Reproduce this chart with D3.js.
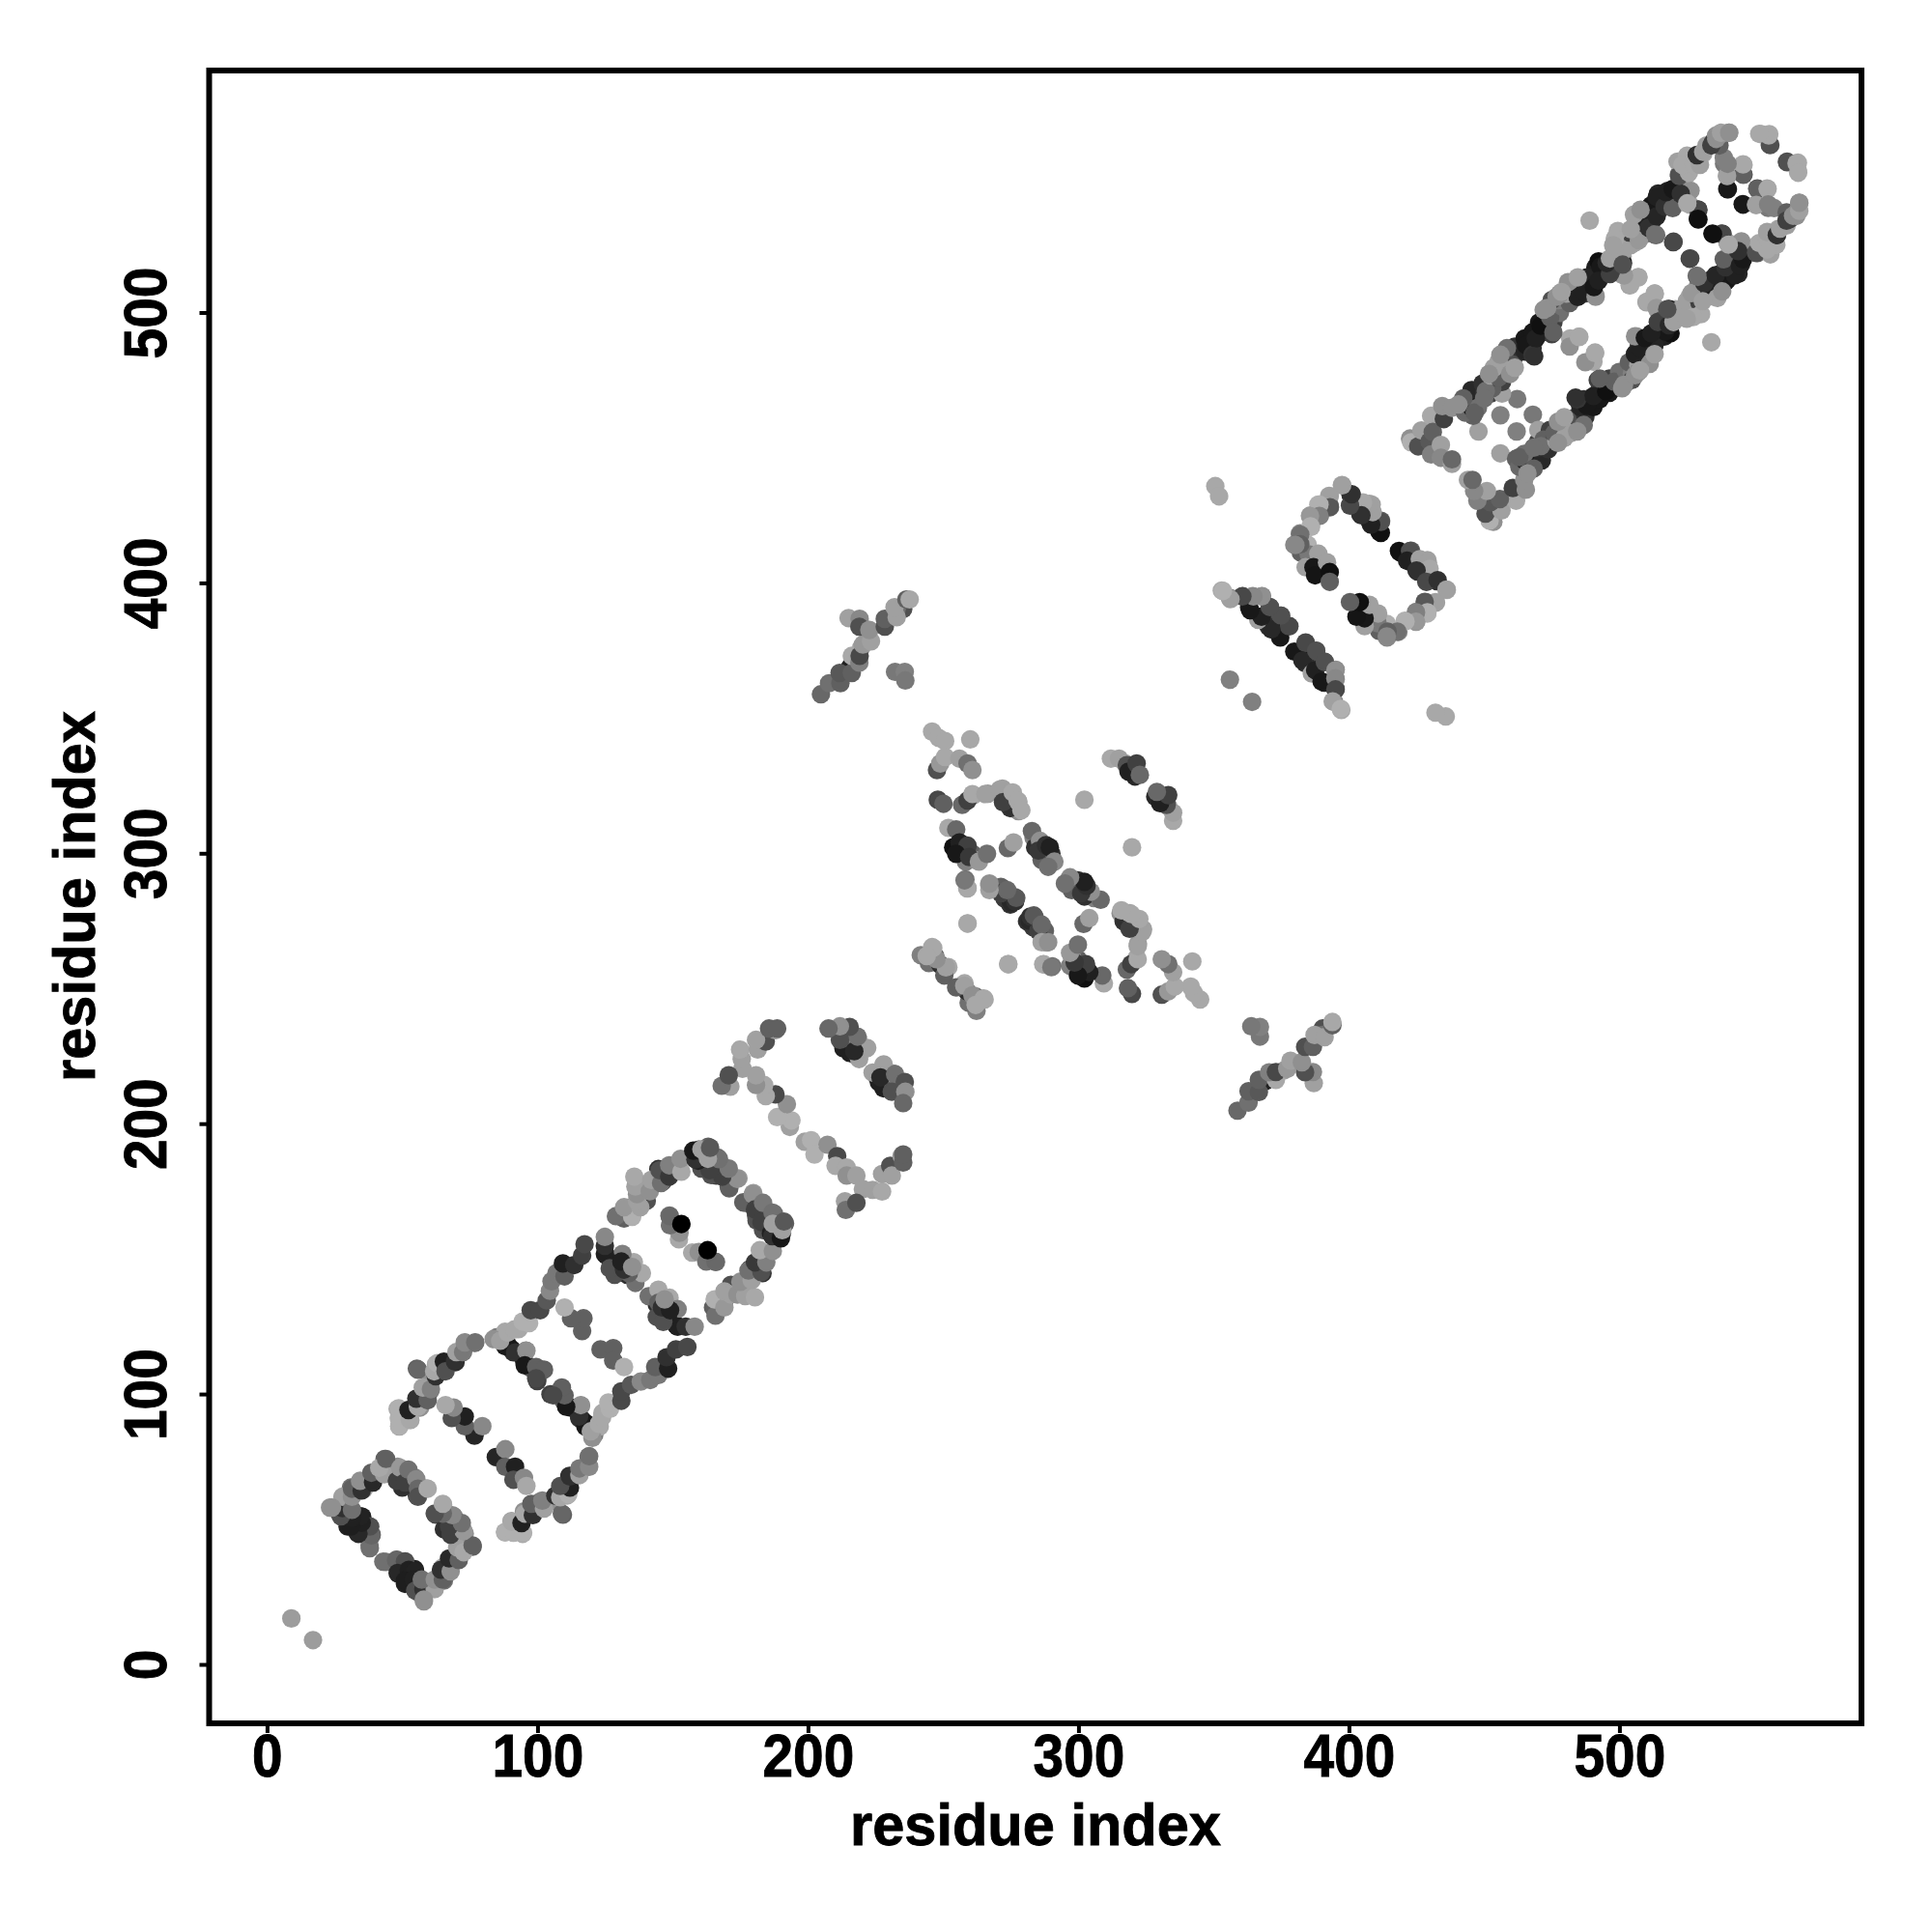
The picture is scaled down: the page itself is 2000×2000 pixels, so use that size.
<!DOCTYPE html>
<html><head><meta charset="utf-8"><style>html,body{margin:0;background:#fff}svg{display:block}</style>
<script src="https://cdn.jsdelivr.net/npm/d3@7"></script></head><body><div id="c"></div>
<script>
const xTicks=[0,100,200,300,400,500], yTicks=[0,100,200,300,400,500];
const xTitle="residue index", yTitle="residue index";
// contacts as [residue a, residue b, grey level]; the map is symmetric so each is drawn at (a,b) and (b,a)
const farOut=[[9,17,0x9c]];
const diamondExtra=[[29.8,58.2,0x30],[32.2,54.6,0x20],[35.2,54.6,0x20],[29.8,51,0x20],[33.4,48.7,0x30],[38.1,51,0x50],[38.7,48,0x60],[37.9,44,0x80],[26.8,55.8,0x40],[38.7,67.7,0x20],[35.8,64.8,0xa8],[38.7,70.7,0x70],[31,65.4,0x70],[28,61.8,0xa8],[23.3,58,0x90],[43.5,76,0x60],[44.1,71.9,0x88],[48.3,73.1,0x90],[51.2,71.9,0x68],[54.8,69,0x80],[52.4,67.7,0x80],[59,65.1,0xa8],[55.4,62.4,0x40],[50,65.4,0x30]];
const ladderExtra=[[48.9,88,0xa0],[48.3,94.5,0xa8],[52.4,94,0x18],[53,90.4,0xa0],[56.6,95,0x90],[55.4,109.4,0x60],[60.2,101,0x70],[60.2,107,0x90],[63.7,108,0x30],[62.5,111,0xa8],[69.7,111.8,0x30],[70.3,115.4,0xa0],[73.3,118.9,0x88],[76.8,118.9,0x68],[90.5,116.5,0x20],[100,106.4,0x48],[104.8,99.9,0x40],[108.4,101,0x60],[112,95.1,0x15],[116.1,95.7,0x80],[115.5,91,0x30],[117.9,89.2,0x18],[109.6,97.5,0x60],[144.1,133.2,0x30],[147.7,128.5,0x20],[151.2,125.5,0x10]];
const firstDiamond=[[43,38,0x70],[47.7,38.6,0x66],[51,38,0x50],[48.3,33.8,0x28],[52.4,35,0x20],[54.8,34.4,0x22],[51,31,0x1e],[54.2,31.4,0x20],[54.8,27.3,0x50],[57.8,27.9,0x30],[62,27.9,0xa0],[58,24,0x90],[57.2,31.4,0x70],[62,31.4,0x90],[65,31.4,0x60],[64.3,35,0x30],[67.9,34.4,0x90],[67.3,39.2,0x28],[70.9,38.6,0x60],[70.3,43.3,0xa0],[72.7,41.5,0xa8],[76,44,0x60],[67.9,48,0x40],[72.7,49.3,0x98],[67.3,51,0x40],[72,52.3,0x70],[68.5,55.2,0x88],[65,55.8,0x68],[62,55.8,0x50],[65,59.4,0xa8]];
const secondStrand=[[88.1,48.9,0xb0],[91.1,48.7,0xb0],[94.7,48.7,0xb0],[90.5,52.8,0xa8],[94.1,52.3,0x20],[95.3,55.8,0xa8],[98.3,55.2,0x30],[97.7,59.4,0x60],[102.4,57.6,0xa0],[109,55.8,0x66],[101.8,60.6,0x80],[106.6,62.4,0x30],[108.4,61.8,0xa8],[111.4,63,0xb0],[112,65.4,0x20],[108.4,66,0x50],[112,69.5,0x30],[115.5,70,0xa0],[115.5,72.5,0x78],[119.1,73.1,0x88],[119.1,77,0x70]];
const firstRungs=[[84.6,76.7,0x25],[88.1,79.6,0x88],[88.1,73.1,0x60],[91.7,73.1,0x20],[91.1,68.3,0x50],[95,69,0x88],[95.9,66,0xa8],[85,121,0x78],[88,123,0xa8],[93,124,0xa8],[95.3,126.7,0xb8],[88,117.7,0x18],[91.7,115.4,0x30],[95.9,116,0x90],[95.3,110.6,0x18],[99.5,110,0x60],[102.4,109,0x60],[99.5,105.8,0x48],[123.3,116.5,0x60],[128,117,0x60],[128,112.4,0x60],[132,110,0xb0]];
const thirdStrand=[[120.3,83.8,0x90],[119.7,86.2,0xa0],[122.7,89,0xa8],[123.9,91.5,0xa8],[126.8,94.5,0xb0],[126.2,96.9,0xb0],[131,97.5,0x48],[131,101,0x48],[134.6,103.4,0x58],[138.2,104.6,0x88],[141.7,105.2,0x78],[144.7,107,0x78],[143.5,110,0x60],[148.3,109.4,0x20],[147.7,113.6,0x30],[151.2,116.5,0x40],[155.4,117.4,0x48]];
const nearDiagonalA=[[141.1,136.2,0x70],[144.7,138.6,0xa8],[144.7,133.8,0x60],[148.8,135.6,0xa8],[151.8,131.4,0x80],[148.3,127.9,0x20],[151.8,124.9,0x20],[154.8,124.9,0x30],[158.1,124.9,0x88],[144.1,128.5,0x50],[146.5,126.7,0x50],[146,132,0x30],[149,131,0x20],[147,135,0x90]];
const innerDots=[[157.2,152.3,0xa8],[159.6,152.5,0x90],[162.4,149,0x70],[166,148.8,0x78],[165.8,148.9,0x68],[162.9,153.2,0x00]];
const fourthExtra=[[178.6,146.3,0x30],[176.2,141,0x60],[171.5,140.4,0x50],[168.5,133.8,0x20],[164.9,132,0x60],[134,168.9,0x20],[138.1,173.7,0x30],[142.3,178.5,0x30],[144.7,183.2,0x30],[148.8,183.2,0x30],[159.6,190.4,0x40],[159,187.4,0x28],[163.1,191.5,0x60],[162.5,183.2,0x60],[166.7,187.4,0x68],[166.1,180.8,0x40],[169.7,179.6,0x30],[170.9,176.1,0x60],[170.3,183.2,0x70],[167.3,183.8,0x28],[181,164.2,0x50],[183.4,160.6,0x50]];
const fourthStrand=[[165.8,129,0x70],[165.5,135,0xb0],[169.1,132,0x98],[169.1,138,0xa0],[171.5,136.8,0xa0],[173.9,136.8,0x90],[176.8,136.2,0xa0],[180.4,135.8,0xa8],[175,141.5,0x90],[179.2,142.1,0xa0],[178,145.7,0x70],[182.8,145.1,0x50],[180.4,148.7,0x38],[184.6,148.7,0x80],[182.2,153.2,0xa8],[187,152.9,0x90]];
const nearDiagonalB=[[176.8,170.7,0x60],[179.8,174.3,0x98],[173.8,179.6,0x90],[180.4,168.3,0x40],[183.4,170.7,0x78],[182.8,163.6,0x40],[186.9,167.1,0x70],[186.3,159.4,0x20],[186.8,158.4,0x30],[190,157.6,0x18],[187,163,0xa0],[190.5,160.6,0xa0],[191.1,163.8,0x58]];
const fifthStrand=[[198.8,193.3,0xa0],[201.2,193.9,0xb0],[202.4,188.6,0xb0],[207.2,192.2,0x90],[210.8,188,0x48],[210.2,184.4,0xa8],[214.3,183.8,0xa8],[214.3,180.8,0x90],[217.9,180.8,0xa0],[220.3,175.8,0xa0],[213.7,171.3,0xa0],[214,168.1,0x70],[217.9,170.7,0x50],[223.9,175.5,0xa0],[227.4,174.9,0xa8],[227.4,181.4,0xa0],[230.4,184.4,0x50],[231,180.8,0xa0],[234.6,188,0x98],[235.2,185.6,0x60],[235.2,188.6,0x60]];
const nearDiagonalC=[[213.1,227.9,0x20],[217.3,225.5,0x20],[214.9,233.2,0x40],[226.2,215.4,0x20],[231.6,214.2,0x60],[218.5,231.4,0x90],[221.5,227.8,0xa8],[223.9,218.9,0xa0],[228,221.9,0xa0],[226.8,217.1,0x28],[232.2,218.3,0x70],[235.8,215.4,0x50],[231,211.8,0x50],[236,211.8,0x90],[235.2,207.6,0x68]];
const crossArm=[[368.9,215.6,0x20],[376,219.7,0xa0],[382.6,222.1,0xa0],[390.3,235.2,0x50],[358.8,204.8,0x68],[362.9,207.8,0x70],[362.9,212,0x60],[366.7,211.7,0x58],[366.7,216.2,0x60],[373,216.2,0xa8],[370.5,219,0x80],[373,219.1,0x48],[377.2,220.3,0x98],[378.4,223.3,0xa0],[387,215,0xa0],[386.7,219.1,0x88],[383.8,219,0x50],[382.6,222.7,0x90],[383.8,228.4,0x50],[386.7,228.4,0x60],[390.3,232.8,0x70],[387.3,232.8,0xa0],[391,232,0xa0],[393.9,236.4,0x60],[393.9,237.6,0xa8],[367.1,232.2,0x78],[367.1,235.8,0x80],[363.9,236,0x78]];
const centreExtra=[[253.7,302.2,0x10],[257.2,299.8,0x25],[258.4,296.9,0x80],[260.8,299.8,0x60],[262,297.5,0x90],[272.7,283.2,0x38],[273.9,285.6,0x60],[270.3,286.7,0x50],[281,274.8,0x30],[283.4,273,0x38],[287.6,271.3,0x68],[283.4,305.8,0x80],[284,302.2,0x30],[287,299.8,0x28],[290,299.8,0x30],[286.4,297.5,0x60],[315.6,277.8,0x90],[316.7,274.8,0x30],[319,277.8,0xa0],[322,274.8,0xa8],[323.9,271.9,0xa0],[322,266.5,0x98],[321.5,261.2,0xa8],[320.3,332,0x30],[317.3,333.2,0xa0],[320.9,328.4,0x28]];
const centreCluster=[[245.9,345,0xa8],[248.3,342.7,0xa8],[250.7,341.5,0xa8],[260,342.1,0xa8],[247.7,330.8,0x50],[248.9,333.2,0x98],[250.7,335.6,0xa8],[256,335,0xa0],[259,333.2,0x70],[260.8,330.8,0x90],[248,319.8,0x48],[250.1,318.3,0x60],[257,317.9,0x68],[259,319.5,0x40],[260.8,321.9,0xa8],[265.6,321.9,0xa0],[270.9,323.6,0xa0],[272.1,318.9,0x40],[275.7,322.5,0xa8],[277.5,319.5,0xa8],[278.9,315.9,0xa8],[251.9,309.4,0xa8],[254.8,308.8,0x68],[256,304,0x20],[259,302.8,0x40],[254.8,299.8,0x18],[259.6,298.6,0x38],[263.2,296.9,0x98],[266.2,299.8,0x70],[273.9,301.9,0x68],[276,304,0xa0],[282.8,308.2,0x68],[285.8,304.6,0x90],[285.2,301,0x38],[288,303,0x30],[289.4,302.2,0x20],[291.1,296.9,0x88],[288.8,295,0x70],[258.2,290.3,0x70],[259,287.1,0xa0],[267,288.2,0xa8],[271.5,287.3,0x60],[275,282,0x28],[276.3,283.8,0x60],[282.2,276.6,0x30],[283.5,277,0x58],[285.2,271.3,0x40],[286.4,273.6,0x68],[286.4,267.1,0xa0],[288.8,267.1,0x90],[259,274,0xa8],[274.1,259,0xa8],[287,258.9,0xa8],[290,257.9,0x78],[302.2,319.8,0xa8],[312,335,0xa8],[315,335,0xa0],[317.9,332.6,0x50],[318.5,330.2,0x20],[321.5,333.2,0x40],[322.7,329,0x68]];
const smallKnot=[[241.7,262.3,0x80],[244.7,259.4,0x70],[245.9,265.3,0xa8],[247,262,0x60],[248.9,258.8,0x30],[251.9,257.9,0xa8],[250.4,254.8,0x60],[251,257.8,0xa0],[247.5,260.8,0x90],[246.3,265,0xa8],[243.9,262,0xa8]];
const sixthGroup=[[350.6,435.8,0xa8],[352,432,0xa8],[353,397.2,0xa8],[356,394.5,0x88],[360.7,395.1,0x50],[363.1,390.9,0x20],[363.7,394.5,0x40],[364.3,395.1,0x98],[367.9,395.1,0x88],[366.7,387.4,0x20],[370.9,390.9,0x58],[371,388,0x48],[370.3,383.8,0x30],[374.8,387.9,0x58],[374.4,381.4,0x10],[378,384,0x50],[379.8,374.6,0x18],[384,377.8,0x48],[382.8,371.3,0x28],[387.9,374.9,0x50],[386.3,366.5,0xa0],[387.5,367.7,0x20],[391.1,370.7,0x50],[389.9,363.5,0x18],[395,367.7,0x90],[395,364.7,0x88],[395,360.6,0x48],[394,356.2,0xa0],[397,353.4,0xb0],[356,364.2,0x80]];
const seventhGroup=[[397.4,436.2,0xb0],[392.9,432,0xa0],[392.9,428.4,0x60],[388.7,429,0xb0],[385.7,424.9,0xa0],[389.3,424.9,0x88],[386,420.7,0xb0],[381.9,418.3,0x88],[379.8,414.1,0x88],[382.2,411.2,0x60],[384.8,414.1,0xb0],[385.1,410.6,0x78],[388.7,410.8,0xa0],[384,405.8,0xa0],[386.9,405.8,0x18],[387.5,402.8,0x15],[391.9,407.6,0xa0],[392.9,404,0x10],[392.9,400.4,0x60],[400.6,432.6,0x30],[400.6,429,0x48],[404.8,429.6,0xa8],[408.4,429,0xa0],[404.2,425.4,0x38],[407.8,422.5,0x25],[411.3,418.9,0x05],[411.9,423,0x60]];
const seventhEnd=[[418.5,411.8,0x10],[422.6,411.8,0x50],[421.5,408.2,0x20],[426.2,408.8,0xa0],[429.2,407.6,0xa0],[429.8,405.2,0xa8],[425,404.6,0x30],[428.6,400.4,0x48],[432.8,401,0x30],[436.1,397.5,0xa0],[432.2,392.7,0xa0],[428,393,0x58],[429,389.1,0xb0],[424.8,389.1,0x80],[424.8,385.6,0x98],[420.9,385.8,0xb0],[417.9,382,0x70],[414.3,382,0x60],[414,380.2,0x88]];
const bandCorner=[[422.6,453.4,0x90],[423,452,0xb0],[425.6,450.5,0x50],[426.8,456.4,0xa0],[430.4,461.8,0xa8],[429.8,452.3,0x58],[430.4,447.5,0x80],[431,455.8,0x60],[434,451,0xa0],[434,446.3,0x88],[435.1,460.6,0x40],[434.5,465.4,0x90],[438.1,464.8,0x90],[438.1,444,0xa0],[438.1,445.7,0x68]];
const bandRungs=[[447.9,456,0xa0],[456,462,0x80],[462.2,468,0x78],[481.8,490.4,0xa8],[485.2,491,0xa8],[481.6,487.4,0x90],[485,491,0xa8],[500.6,514.2,0xa8],[503.8,510,0xa0],[507,513,0xa8],[504,510.2,0xa8],[507,513.1,0xa8],[501.7,513.7,0x98],[489,534,0xa8],[529.2,534.4,0x15],[529.2,538,0x38],[519.9,526,0x40],[520,526.2,0x48],[513.6,528.6,0x70],[526,539.9,0xa8],[529,538.1,0x48],[529,534.6,0x10]];
const bandTop=[[539.9,545.7,0x20],[540.1,545.6,0x18],[545.9,551,0x50],[545.9,554.6,0xa8],[539.9,550.5,0x80],[538.7,555,0x78],[552.4,566,0xa8],[555.4,566,0xa8],[555.8,562,0x50],[555.6,562,0x50],[555.2,565.5,0xa8],[551.7,566.1,0xa8],[545.7,551,0x60],[545.7,554.8,0xa8],[539.8,550.6,0xa0],[540,555,0x80],[538.6,557.2,0x80],[525.6,544.9,0x90],[525,551,0xb0],[522,551,0x60],[522.7,555,0xa8]];
const bandEdges=[[473.3,501.7,0x90],[481,511.2,0x90],[484.6,513,0xa0],[496.5,520,0xa0],[499.4,530.2,0xa8],[505.4,536.2,0xa0],[507.8,538,0x90],[455.4,481.4,0xa0],[453.6,479.6,0xa0],[451.8,477.3,0x90],[458.4,486.8,0x70],[456,484.4,0x90],[442.3,468.3,0x60],[440.5,466,0x90],[472,501,0x90],[476.8,505.8,0x90],[478.6,507.6,0xa0],[504.2,530.8,0xa0],[498.3,527.3,0xa8],[497.7,524.9,0xa0],[446.5,463,0x60],[450,468.3,0x70],[459.6,477.3,0x90],[461.3,479.6,0xa0],[468.5,483.8,0x30],[475.6,492.7,0x60],[501.2,517.7,0x50]];
const bandFlankLow=[[442.9,463,0x68],[445.3,465,0x18],[447.7,464.8,0x70],[450.6,471,0x70],[452.4,476.7,0xa0],[455.4,476,0x60],[458.4,480.8,0x80],[456.6,484.4,0x70],[460.2,480.8,0x50],[465.5,488,0x18],[467.9,484.4,0x35],[469.1,490.4,0x20],[470.9,495.1,0x10],[474.4,498.1,0x60],[473.8,502.3,0xa0],[478.6,502.3,0x70],[482.2,507,0x70]];
const bandFlankHigh=[[475,504.6,0x50],[478,507,0x80],[481,509.4,0x90],[484,511.8,0x88],[484.6,505.8,0x20],[487,507.6,0x20],[491.2,505.8,0x90],[488,513,0x25],[490.6,509.4,0x18],[493,517,0x18],[492.3,511.8,0x20],[496.5,514.2,0x40],[495.3,518.3,0x28],[498.3,524.9,0x50],[500.7,529,0xa0],[501.3,518.3,0x18],[500.7,521.9,0xa0],[504.2,524.9,0xa0],[503.7,529.6,0x40],[507.2,526.7,0x98],[507.2,535.6,0xa0],[508.4,533.2,0x20],[510.8,531.4,0x30],[513.2,529,0x70],[511.4,539.2,0x18],[513.8,535.6,0x25],[513.8,542.7,0x20],[516.7,539.2,0x30],[519.7,538.6,0x60],[517.3,544.5,0x20],[519.7,545.7,0x18],[526.3,545.1,0x90],[522.7,543.9,0x30],[525.1,540.4,0xa8],[522.1,550.5,0x50],[525.7,551.7,0xa8],[523.3,554.6,0xa8],[527.5,554.6,0xa8],[529.8,554.6,0xa0],[528.7,558.2,0x30],[531,559.4,0xa0],[534,561.8,0x40],[535.8,564.2,0x90],[537.6,566.5,0xa0],[540.6,566.5,0x90]];
const bandStrandLow=[[445.9,461.8,0x60],[443.5,464,0x18],[445.3,464.8,0x15],[444,468.3,0x20],[447,467.1,0x20],[447,470,0x28],[450,468.3,0x30],[450,472,0x50],[452.4,470,0x40],[456.6,470,0xa0],[456.6,474.3,0x40],[442.9,467,0x30],[445.9,466,0x18],[447.7,468.3,0x20],[445.3,471.3,0x28],[450,470,0x30],[449.4,473.7,0x30],[453,472,0x60],[453.6,476,0x50],[456.6,479,0x90],[455.4,482,0xa0],[458.4,478.5,0x90],[459,484.4,0x60],[461.3,483.8,0x40],[461.3,487.4,0x30],[465,485.6,0x25],[465,490.4,0x18],[467.9,486.8,0x30],[467.9,492.7,0x18],[470.3,496.3,0x18],[471.5,492.7,0x28],[475,492,0x40],[472.7,499.9,0x70],[475.6,496.3,0x40],[475,502.3,0x78],[478,499.9,0x70]];
const bandStrandHigh=[[477.4,504.6,0x80],[481.6,503.5,0x60],[480.4,507,0xa0],[484.6,505.8,0x30],[483.4,510.6,0x60],[487,507,0x40],[491.1,506.4,0x90],[487.5,512.4,0x20],[490.5,510.6,0x15],[491.1,516.6,0x20],[492.3,518.9,0x10],[494.7,514.8,0x30],[497,515.4,0x58],[495.3,517.7,0x50],[500,519,0x28],[498.3,522.5,0xa0],[501.2,520.7,0xa8],[500,528.4,0xa0],[503,525.5,0xa0],[506,526,0xa8],[506,534.4,0xa8],[507.2,531.4,0x90],[509.6,529,0x88],[513.1,528.8,0x68],[509.6,535.6,0x18],[512.5,534.4,0x20],[512,539.8,0x25],[514.3,537.4,0x30],[514.3,544,0x25],[517.3,540.4,0x90],[517.9,545,0x30],[519.7,541.5,0x60],[520.3,545.7,0x25],[521.5,544,0x30],[525,540.4,0xa8],[521.5,555.8,0xa0],[525,558,0xa8],[528.6,558.2,0x30],[531,558.8,0xa8],[532.2,561.8,0xa0],[534.6,563,0x40],[537,561.8,0x60],[535.7,565.4,0x90],[537.5,566,0xa0],[540.5,566.5,0x90]];
const contactGroups=[farOut,diamondExtra,firstDiamond,ladderExtra,secondStrand,firstRungs,thirdStrand,nearDiagonalA,innerDots,fourthExtra,fourthStrand,nearDiagonalB,fifthStrand,nearDiagonalC,crossArm,centreExtra,centreCluster,smallKnot,sixthGroup,seventhGroup,seventhEnd,bandCorner,bandRungs,bandTop,bandStrandLow,bandFlankLow,bandStrandHigh,bandFlankHigh,bandEdges];

const W=2000,H=2000;
const x=d3.scaleLinear().domain([-21.4,589.5]).range([216.5,1927]);
const y=d3.scaleLinear().domain([-21.8,589.5]).range([1784,73]);
const svg=d3.select("#c").append("svg").attr("width",W).attr("height",H).style("font-family","'Liberation Sans',Arial,sans-serif").style("font-weight","bold");
svg.append("rect").attr("width",W).attr("height",H).attr("fill","#fff");
contactGroups.forEach(g=>{
  const pts=g.flatMap(([a,b,s])=>[[a,b,s],[b,a,s]]);
  svg.append("g").selectAll("circle").data(pts).join("circle")
    .attr("cx",d=>x(d[0])).attr("cy",d=>y(d[1])).attr("r",9.6)
    .attr("fill",d=>d3.rgb(d[2],d[2],d[2]));
});
svg.append("rect").attr("x",216.5).attr("y",73).attr("width",1927-216.5).attr("height",1784-73).attr("fill","none").attr("stroke","#000").attr("stroke-width",6);
const styleTick=s=>s.attr("font-size",63).attr("fill","#000").attr("stroke","#000").attr("stroke-width",0.9).attr("text-anchor","middle")
  .attr("textLength",d=>String(d).length*31.6).attr("lengthAdjust","spacingAndGlyphs");
const ax=svg.append("g").attr("transform","translate(0,1784)").call(d3.axisBottom(x).tickValues(xTicks).tickSize(10).tickFormat(d3.format("d")));
ax.select(".domain").remove();
ax.selectAll("line").attr("stroke","#000").attr("stroke-width",4);
ax.selectAll("text").attr("dy",null).attr("y",55).call(styleTick);
const ay=svg.append("g").attr("transform","translate(216.5,0)").call(d3.axisLeft(y).tickValues(yTicks).tickSize(10).tickFormat(d3.format("d")));
ay.select(".domain").remove();
ay.selectAll("line").attr("stroke","#000").attr("stroke-width",4);
ay.selectAll("text").attr("dy",null).attr("x",null).call(styleTick).attr("transform","translate(-45,0) rotate(-90)");
const styleTitle=s=>s.attr("text-anchor","middle").attr("font-size",62).attr("fill","#000").attr("stroke","#000").attr("stroke-width",0.9).attr("textLength",384).attr("lengthAdjust","spacingAndGlyphs");
svg.append("text").attr("x",1072).attr("y",1910).call(styleTitle).text(xTitle);
svg.append("text").attr("transform","translate(98,928) rotate(-90)").call(styleTitle).text(yTitle);
</script></body></html>
